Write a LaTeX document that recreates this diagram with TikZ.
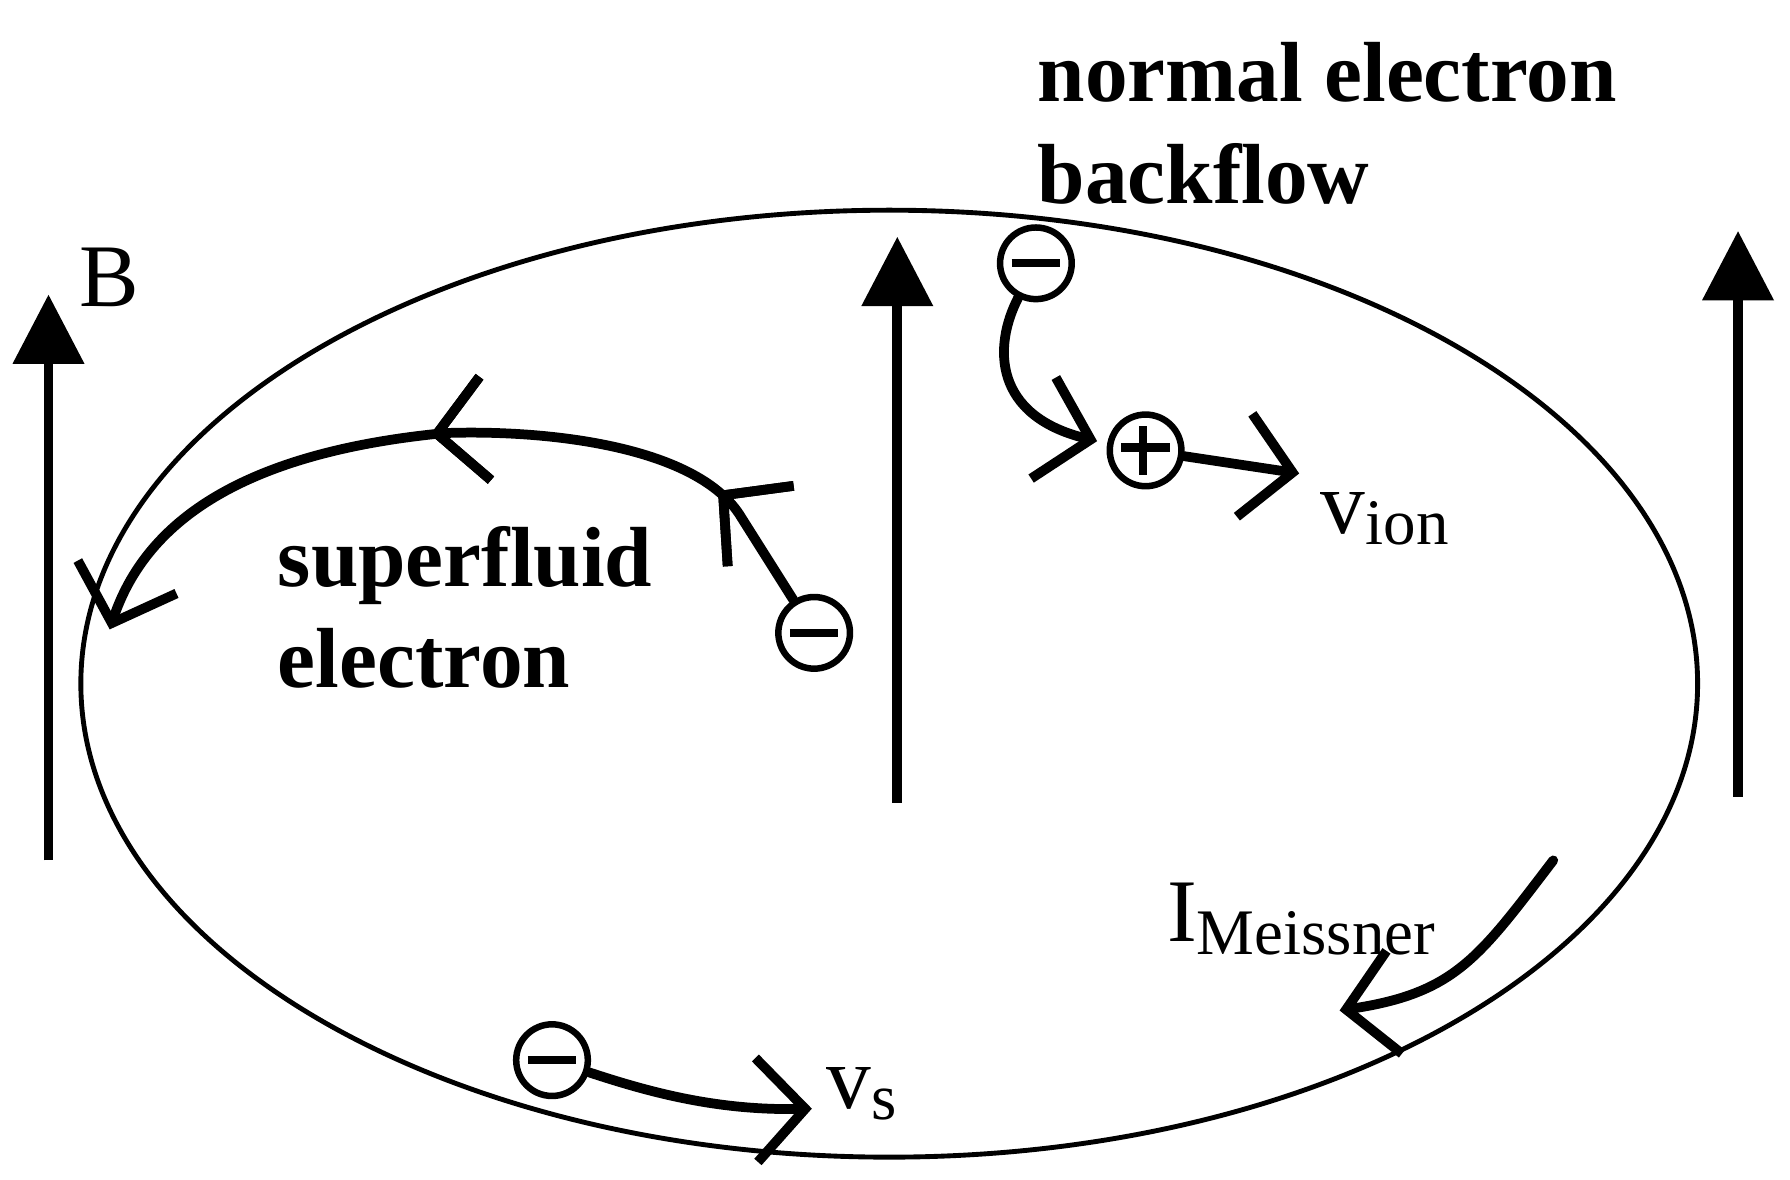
\documentclass[tikz,border=0pt]{standalone}
\usepackage{fontspec}
\setmainfont{Liberation Serif}
\usetikzlibrary{arrows.meta,decorations.markings}
\begin{document}
\begin{tikzpicture}[x=0.01cm,y=-0.01cm,
        field/.style={line width=2.4pt,-{Triangle[length=0.6cm,width=0.6cm]}},
        flow/.style={line width=2.4pt,line cap=round,-{Straight Barb[length=0.42cm,width=0.9cm,line width=2.4pt]}},
        midflow/.style={postaction={decorate},decoration={markings,
            mark=at position #1 with {\arrow{Straight Barb[length=0.42cm,width=0.9cm,line width=2.4pt]}}}},
        elec/.style={draw,circle,line width=1.6pt,minimum size=0.62cm,inner sep=0pt},
        big/.style={font=\fontsize{21}{25}\selectfont\bfseries,align=left,anchor=north west,inner sep=0pt},
        lab/.style={font=\fontsize{22}{26}\selectfont,anchor=base west,inner sep=0pt}]
    \useasboundingbox (0,0) rectangle (1550,1021);
    % sample
    \draw[line width=1.2pt] (770,592) ellipse [x radius=700,y radius=410];
    % field lines
    \coordinate (b1s) at (42,745);   \coordinate (b1e) at (42,255);
    \coordinate (b2s) at (777,695);  \coordinate (b2e) at (777,205);
    \coordinate (b3s) at (1505,690); \coordinate (b3e) at (1505,200);
    \draw[field] (b1s) -- (b1e);
    \draw[field] (b2s) -- (b2e);
    \draw[field] (b3s) -- (b3e);
    \node[lab] (B) at (68,265) {B};
    % electrons and ion
    \node[elec] (es) at (705,548) {\rule{0.42cm}{2pt}};
    \node[elec] (en) at (897,228) {\rule{0.42cm}{2pt}};
    \node[elec] (ion) at (992,390) {\rule{0.42cm}{2pt}\llap{\rule{0.21cm}{0pt}\rule[-0.2cm]{2pt}{0.42cm}\rule{0.2cm}{0pt}}};
    \node[elec] (eb) at (478,918) {\rule{0.42cm}{2pt}};
    % superfluid electron path
    \coordinate (sfa) at (640,445);
    \coordinate (sfb) at (385,375);
    \coordinate (sfc) at (95,545);
    \draw[flow,midflow=0.16,midflow=0.52] (es) -- (sfa) .. controls (600,385) and (470,372) .. (sfb)
        .. controls (230,390) and (130,440) .. (sfc);
    % backflow
    \coordinate (nfa) at (950,382);
    \draw[flow] (en) .. controls (860,300) and (860,360) .. (nfa);
    \coordinate (vi) at (1125,410);
    \draw[flow] (ion) -- (vi);
    \node[lab] (vion) at (1143,462) {v\raisebox{-0.12em}{\fontsize{16}{18}\selectfont ion}};
    % surface current
    \coordinate (vse) at (703,960);
    \draw[flow] (eb) .. controls (560,945) and (620,962) .. (vse);
    \node[lab] (vs) at (715,960) {v\raisebox{-0.12em}{\fontsize{16}{18}\selectfont s}};
    \coordinate (ima) at (1345,745);
    \coordinate (imb) at (1160,875);
    \draw[flow] (ima) .. controls (1280,830) and (1260,860) .. (imb);
    \node[lab] (im) at (1010,815) {I\raisebox{-0.15em}{\fontsize{16}{18}\selectfont Meissner}};
    % labels
    \node[big] (nlab) at (898,36) {normal electron\\backflow};
    \node[big] (slab) at (240,455) {superfluid\\electron};
\end{tikzpicture}
\end{document}
